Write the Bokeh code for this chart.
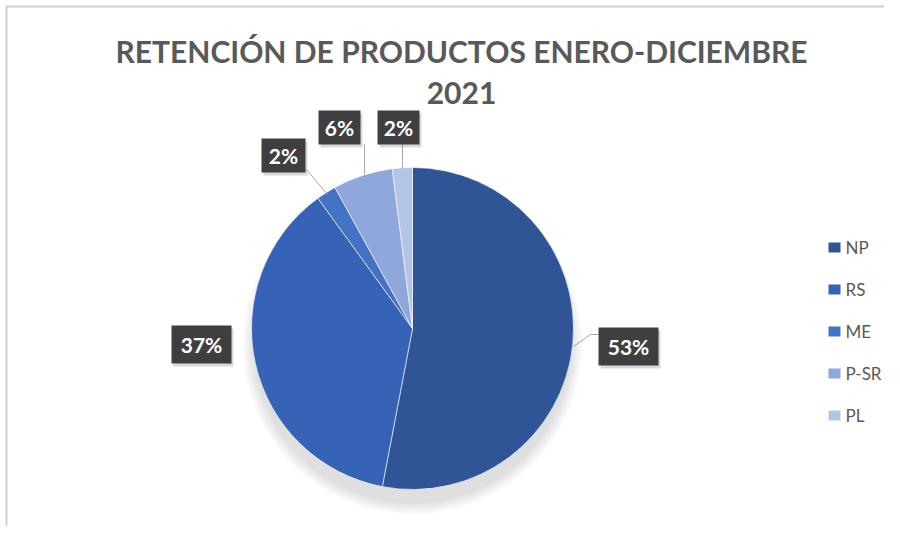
from bokeh.plotting import figure
from bokeh.models import Range1d, ColumnDataSource
from bokeh.core.properties import value
from bokeh.embed import file_html
from bokeh.resources import INLINE
import numpy as np

# ---- data ----
categories = ["NP", "RS", "ME", "P-SR", "PL"]
values = [53, 37, 2, 6, 2]
colors = ["#2F5597", "#3763B6", "#4472C4", "#8FA7DA", "#B4C4E6"]
title_lines = ["RETENCIÓN DE PRODUCTOS ENERO-DICIEMBRE", "2021"]

# ---- layout (reference pixel coords, y measured from top) ----
W, H = 884, 526
FULL_H = 542
CX, CY, R = 412, 328, 161
def Y(ry):
    return FULL_H - ry

# label boxes: (cx, cy, w, h) in pixels, one per category
box_pos = {
    "NP": (628, 346, 60, 38),
    "RS": (201, 344, 60, 38),
    "ME": (283, 155, 44, 34),
    "P-SR": (339, 127, 42, 34),
    "PL": (398, 127, 42, 34),
}
leaders = {
    "NP": ([573, 590, 598], [346, 334, 334]),
    "ME": ([306, 327], [169, 194]),
    "P-SR": ([364, 364], [144, 174]),
    "PL": ([402, 402], [144, 168]),
}
legend_x, legend_y0, legend_dy = 834, 247, 42

p = figure(width=W, height=H, output_backend="svg", toolbar_location=None,
           x_range=Range1d(0, W), y_range=Range1d(FULL_H - H, FULL_H),
           min_border=0, outline_line_color=None)
p.axis.visible = False
p.grid.visible = False
p.background_fill_color = "white"
p.border_fill_color = "white"

# chart frame
p.line([6, 6, W], [Y(FULL_H), Y(6), Y(6)], line_color="#D0D0D0", line_width=2)

# soft shadow under pie
for i in range(8):
    p.circle(x=[CX], y=[Y(CY + 16)], radius=R - 2 + i * 1.6,
             fill_color="#000000", fill_alpha=0.014, line_color=None)

# pie
vals = np.array(values, dtype=float)
frac = vals / vals.sum()
cum = np.cumsum(frac)
prev = np.concatenate([[0.0], cum[:-1]])
src = ColumnDataSource(dict(
    cat=categories, color=colors,
    start=np.pi / 2 - 2 * np.pi * prev,
    end=np.pi / 2 - 2 * np.pi * cum,
))
p.wedge(x=CX, y=Y(CY), radius=R, start_angle="start", end_angle="end",
        direction="clock", fill_color="color", line_color="white",
        line_width=1, line_alpha=0.6, source=src)

# leader lines
for cat, (xs, ys) in leaders.items():
    p.line(xs, [Y(v) for v in ys], line_color="#A6A6A6", line_width=1)

# data label boxes
bx, by, bw, bh, bt = [], [], [], [], []
for cat, v in zip(categories, values):
    cx, cy, w, h = box_pos[cat]
    bx.append(cx); by.append(Y(cy)); bw.append(w); bh.append(h)
    bt.append(f"{v}%")
p.rect(x=[x + 2 for x in bx], y=[y - 3 for y in by], width=bw, height=bh,
       fill_color="#000000", fill_alpha=0.15, line_color=None)
p.rect(x=bx, y=by, width=bw, height=bh, fill_color="#3F3F3F", line_color=None)
p.text(x=bx, y=by, text=bt, text_color="white", text_font=value("Lato"),
       text_font_style="bold", text_font_size="21px",
       text_align="center", text_baseline="middle")

# title
p.text(x=[461, 461], y=[Y(50), Y(92)], text=title_lines, text_color="#595959",
       text_font=value("Lato"), text_font_style="bold", text_font_size="30px",
       text_align="center", text_baseline="middle")

# legend
ly = [Y(legend_y0 + i * legend_dy) for i in range(len(categories))]
p.rect(x=[legend_x] * len(categories), y=ly, width=12, height=10,
       fill_color=colors, line_color=None)
p.text(x=[legend_x + 11] * len(categories), y=ly, text=categories,
       text_color="#595959", text_font=value("Lato"), text_font_size="17px",
       text_align="left", text_baseline="middle")

open("out.html", "w").write(file_html(p, INLINE))
